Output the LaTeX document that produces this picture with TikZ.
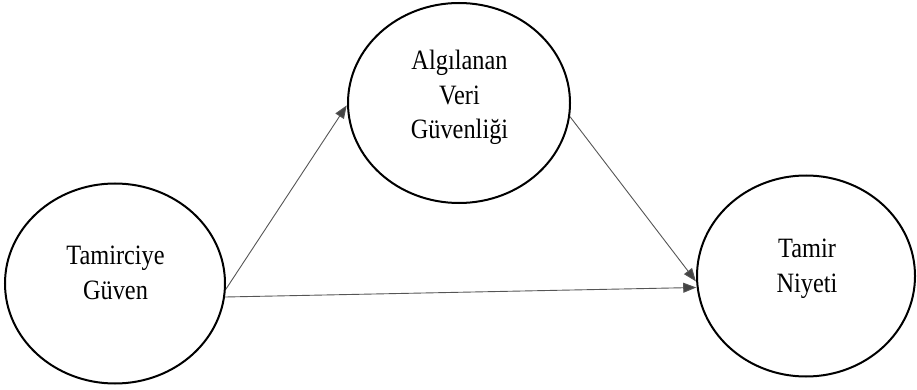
\documentclass[tikz,border=0pt]{standalone}
\usepackage{fontspec}
\setmainfont{Liberation Serif}
\usetikzlibrary{shapes.geometric,arrows.meta}
\definecolor{arrgray}{HTML}{555555}
\definecolor{headgray}{HTML}{444444}
\tikzset{
  ell/.style={ellipse, draw=black, line width=2pt, inner sep=0pt},
  lbl/.style={align=center, font=\fontsize{28}{34.5}\selectfont, inner sep=0pt, xscale=0.87, transform shape},
  arr/.style={draw=arrgray, line width=0.9pt, -{Triangle[length=13pt,width=10pt,fill=headgray]}, shorten >=0.5pt}
}
\begin{document}
\begin{tikzpicture}[x=1pt,y=-1pt]
\useasboundingbox (0,0) rectangle (917,390);
\node[ell, minimum width=220pt, minimum height=200pt] (tg) at (115,283.5) {};
\node[ell, minimum width=222pt, minimum height=200pt] (avg) at (459,103) {};
\node[ell, minimum width=218pt, minimum height=201pt] (tn) at (806,276) {};
\node[lbl] (tgt) at (115.5,273) {Tamirciye\\Güven};
\node[lbl] (avgt) at (459.5,97.5) {Algılanan\\Veri\\Güvenliği};
\node[lbl] (tnt) at (807,268.5) {Tamir\\Niyeti};
\draw[arr] (tg.-3) -- (avg.181);
\draw[arr] (tg.-7) -- (tn.186);
\draw[arr] (avg.-7.5) -- (tn.183.5);
\end{tikzpicture}
\end{document}
